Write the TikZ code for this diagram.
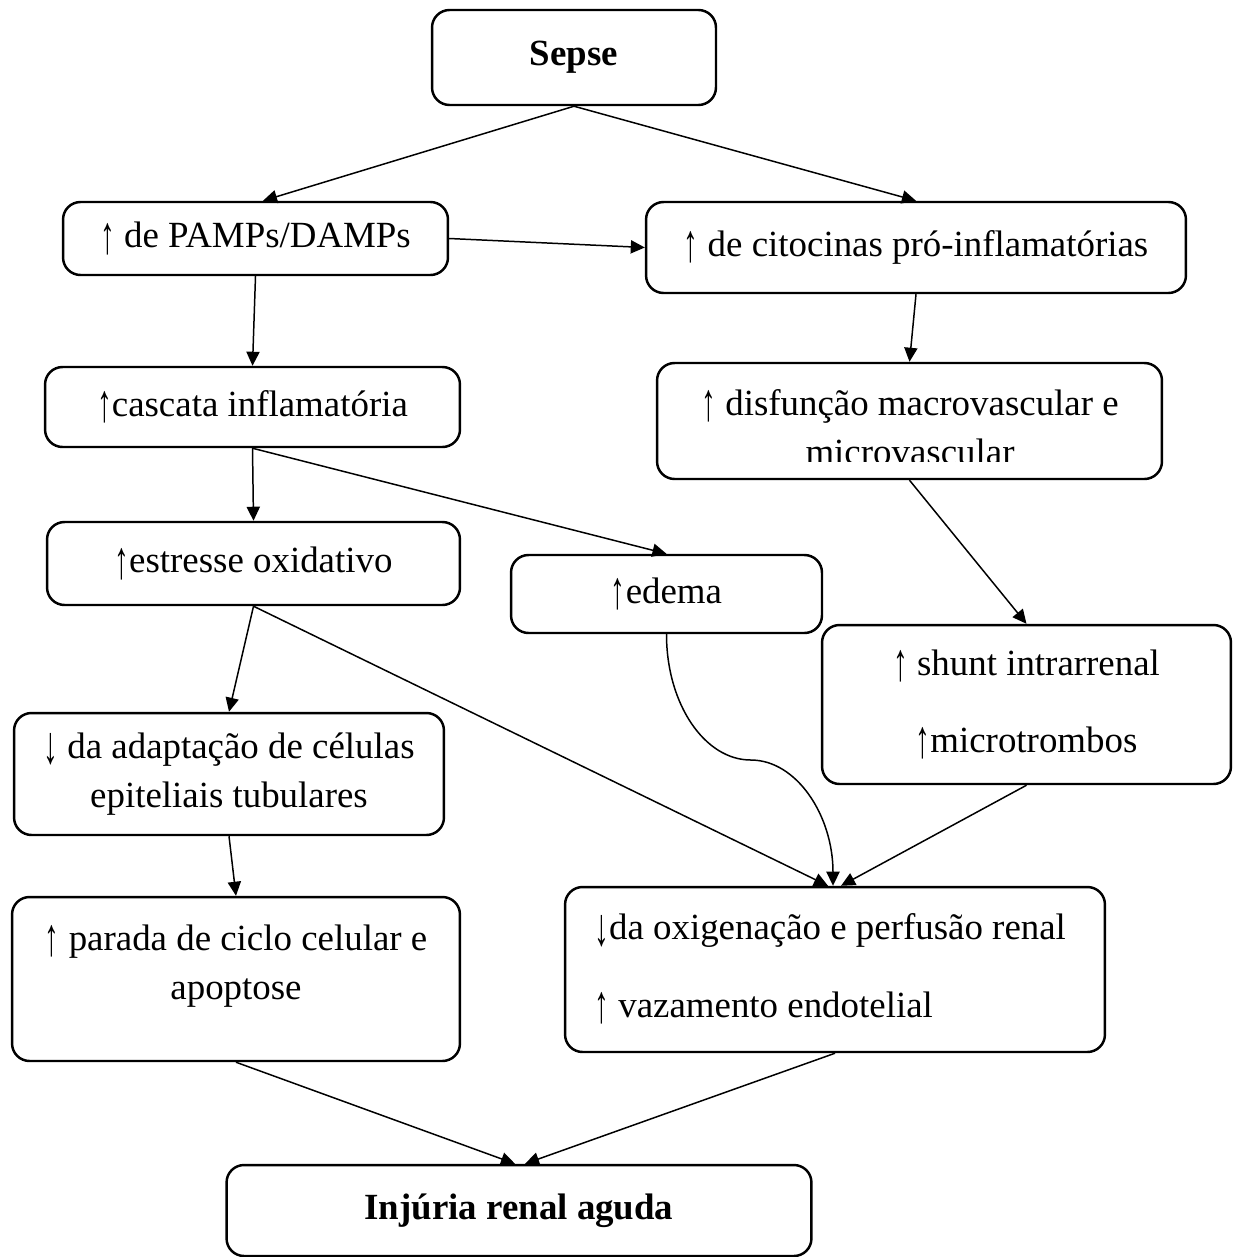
\documentclass[tikz,border=0pt]{standalone}
\usepackage{fontspec}
\setmainfont{Liberation Serif}
\usepackage{graphicx}
\usepackage{tikz}
\usetikzlibrary{arrows.meta}
\usetikzlibrary{calc}
\newcommand{\cima}{\raisebox{-0.14em}{\scalebox{0.8}[1.45]{↑}}}
\newcommand{\baixo}{\raisebox{-0.14em}{\scalebox{0.8}[1.45]{↓}}}

\begin{document}
\begin{tikzpicture}[x=0.02cm, y=-0.02cm,
	caixa/.style={draw, rounded corners=0.35cm, line width=1.4pt, inner sep=0pt,
		font=\fontsize{21}{28}\selectfont, align=center},
	texto/.style={inner sep=0pt, font=\fontsize{21}{28}\selectfont},
	seta/.style={-{Triangle[length=8pt,width=7.5pt]}, line width=0.85pt}]

	\useasboundingbox (0,0) rectangle (1233,1257);

	% top
	\node[caixa, minimum width=5.68cm, minimum height=1.9cm] (sepse) at (574,57.5) {\bfseries Sepse};
	\node[caixa, minimum width=7.7cm, minimum height=1.46cm] (pamps) at (255.5,238.5) {\cima{} de PAMPs/DAMPs};
	\node[caixa, minimum width=10.8cm, minimum height=1.82cm] (citocinas) at (916,247.5) {\cima{} de citocinas pró-inflamatórias};

	% middle
	\node[caixa, minimum width=8.3cm, minimum height=1.6cm] (cascata) at (252.5,407) {\cima cascata inflamatória};
	\node[caixa, minimum width=10.1cm, minimum height=2.32cm] (disfuncao) at (909.5,421) {};
	\begin{scope}
		\clip (disfuncao.north west) rectangle ($(disfuncao.south east)+(0,-19)$);
		\node[texto, align=center] (disftxt) at (910,427) {\cima{} disfunção macrovascular e\\microvascular};
	\end{scope}
	\node[caixa, minimum width=8.26cm, minimum height=1.66cm] (estresse) at (253.5,563.5) {\cima estresse oxidativo};
	\node[caixa, minimum width=6.22cm, minimum height=1.56cm] (edema) at (666.5,594) {\cima edema};
	\node[caixa, minimum width=8.18cm, minimum height=3.18cm] (shunt) at (1026.5,704.5) {\cima{} shunt intrarrenal\\[16pt]\cima microtrombos};
	\node[caixa, minimum width=8.6cm, minimum height=2.44cm] (adaptacao) at (229,774) {\baixo{} da adaptação de células\\epiteliais tubulares};

	% bottom
	\node[caixa, minimum width=8.96cm, minimum height=3.28cm] (parada) at (236,979) {};
	\node[texto, align=center] (paradatxt) at (236,966) {\cima{} parada de ciclo celular e\\apoptose};
	\node[caixa, minimum width=10.8cm, minimum height=3.3cm] (oxigenacao) at (835,969.5) {};
	\node[texto, align=left, anchor=west] (oxigtxt) at (594,969) {\baixo da oxigenação e perfusão renal\\[16pt]\cima{} vazamento endotelial};
	\node[caixa, minimum width=11.7cm, minimum height=1.82cm] (injuria) at (519,1210.5) {\bfseries Injúria renal aguda};

	% arrows
	\draw[seta] (sepse.south) -- ([xshift=0.15cm]pamps.north);
	\draw[seta] (sepse.south) -- (citocinas.north);
	\draw[seta] (pamps.east) -- (citocinas.west);
	\draw[seta] (pamps.south) -- (cascata.north);
	\draw[seta] (citocinas.south) -- (disfuncao.north);
	\draw[seta] (cascata.south) -- (estresse.north);
	\draw[seta] (cascata.south) -- (edema.north);
	\draw[seta] (disfuncao.south) -- (shunt.north);
	\draw[seta] (estresse.south) -- (adaptacao.north);
	\draw[seta] (estresse.south) -- ([xshift=-0.14cm]oxigenacao.north);
	\draw[seta] (edema.south) .. controls +(0,70) and +(-46,0) .. ($(edema.south)!0.5!(oxigenacao.north)$)
		.. controls +(46,0) and +(0,-70) .. ([xshift=-0.04cm]oxigenacao.north);
	\draw[seta] (shunt.south) -- ([xshift=0.12cm]oxigenacao.north);
	\draw[seta] (adaptacao.south) -- (parada.north);
	\draw[seta] (parada.south) -- ([xshift=-0.08cm]injuria.north);
	\draw[seta] (oxigenacao.south) -- ([xshift=0.12cm]injuria.north);

\end{tikzpicture}
\end{document}
